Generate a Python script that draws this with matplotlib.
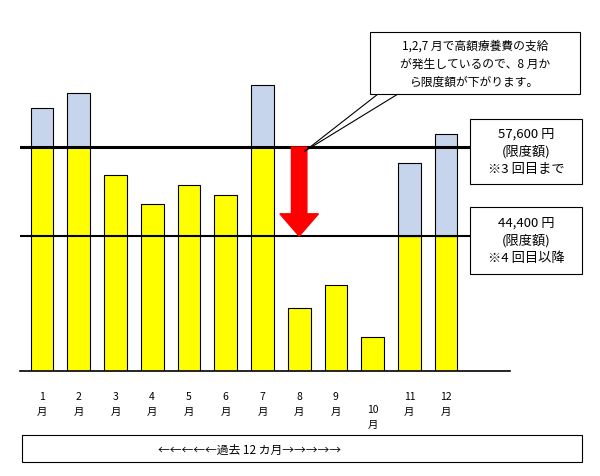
import matplotlib
matplotlib.use("Agg")
import matplotlib.pyplot as plt
from matplotlib.patches import FancyArrow, Rectangle

plt.rcParams["font.family"] = "Noto Sans CJK JP"

months = ["1", "2", "3", "4", "5", "6", "7", "8", "9", "10", "11", "12"]
totals = [63400, 65600, 53450, 49150, 51950, 50480, 66800, 33720, 37130, 29420, 55230, 59530]
limits = [57600, 57600, None, None, None, None, 57600, None, None, None, 44400, 44400]
limit_high = 57600
limit_low = 44400

yellow = "#FFFF00"
blue = "#C6D5EC"

fig = plt.figure(figsize=(6, 4.77), dpi=100)
ax = fig.add_axes([20/600, 105/477, 490/600, 312/477])
ymin, ymax = 24400, 70650
ax.set_ylim(ymin, ymax)
ax.set_xlim(-0.6, 12.74)
for s in ["top", "right", "left"]:
    ax.spines[s].set_visible(False)
ax.spines["bottom"].set_linewidth(1.2)
ax.set_yticks([]); ax.set_xticks([])

w = 0.62
for i, (t, l) in enumerate(zip(totals, limits)):
    base = ymin
    yv = t if l is None else l
    ax.bar(i, yv - base, bottom=base, width=w, color=yellow, edgecolor="black", linewidth=0.8, zorder=2)
    if l is not None:
        ax.bar(i, t - l, bottom=l, width=w, color=blue, edgecolor="black", linewidth=0.8, zorder=2)

ax.plot([-0.6, 11.66], [limit_high]*2, color="black", lw=2.2, zorder=3)
ax.plot([-0.6, 11.66], [limit_low]*2, color="black", lw=1.5, zorder=3)

ax.add_patch(FancyArrow(7, limit_high, 0, limit_low - limit_high, width=0.42, head_width=1.05,
                        head_length=3300, length_includes_head=True, color="#FF0000", zorder=4))

for i, m in enumerate(months):
    ax.text(i, ymin - (3000 if m != "10" else 4900), m + "\n月", ha="center", va="top",
            fontsize=7.5, linespacing=1.6)

def box(x0, y0, x1, y1):
    fig.add_artist(Rectangle((x0/600, 1-y1/477), (x1-x0)/600, (y1-y0)/477,
                             transform=fig.transFigure, fc="white", ec="black", lw=0.8, zorder=5))

box(470, 120, 582, 185)
fig.text(526/600, 1 - 152/477, "57,600 円\n(限度額)\n※3 回目まで", ha="center", va="center",
         fontsize=9.5, linespacing=1.4, zorder=6)
box(470, 208, 582, 275)
fig.text(526/600, 1 - 241/477, "44,400 円\n(限度額)\n※4 回目以降", ha="center", va="center",
         fontsize=9.5, linespacing=1.4, zorder=6)

box(370, 33, 580, 95)
fig.text(475/600, 1 - 64/477, "1,2,7 月で高額療養費の支給\nが発生しているので、8 月か\nら限度額が下がります。",
         ha="center", va="center", fontsize=8.5, linespacing=1.5, zorder=6)
fig.add_artist(plt.Line2D([378/600, 305/600], [1-95/477, 1-152/477], color="black", lw=0.8))
fig.add_artist(plt.Line2D([398/600, 305/600], [1-95/477, 1-152/477], color="black", lw=0.8))

fig.add_artist(Rectangle((22/600, 1-463/477), 560/600, 27/477, transform=fig.transFigure,
                         fill=False, ec="black", lw=0.8))
fig.text(250/600, 1-450/477, "←←←←←過去 12 カ月→→→→→", ha="center", va="center", fontsize=8.5)

fig.savefig("out.png", dpi=100, facecolor="white")
